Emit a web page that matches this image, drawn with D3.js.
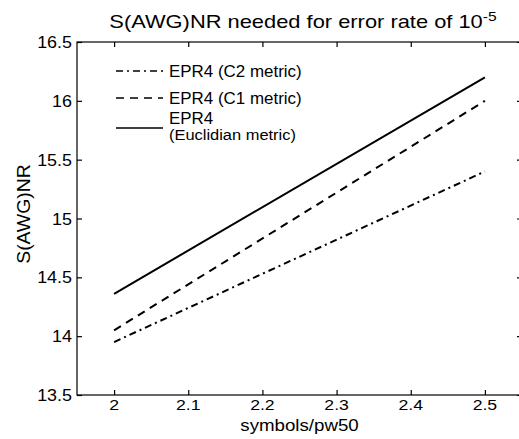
<!DOCTYPE html>
<html>
<head>
<meta charset="utf-8">
<script src="https://cdn.jsdelivr.net/npm/d3@7"></script>
<style>
  body { margin: 0; background: #fff; }
  svg { display: block; font-family: "Liberation Sans", Arial, sans-serif; }
</style>
</head>
<body>
<div id="chart"></div>
<script>
const xValues = [2.0, 2.5]
const c2Metric = [13.95, 15.4]
const c1Metric = [14.05, 16.0]
const euclidean = [14.36, 16.2]
const xTicks = [2, 2.1, 2.2, 2.3, 2.4, 2.5]
const yTicks = [13.5, 14, 14.5, 15, 15.5, 16, 16.5]

const series = [
  { name: "EPR4 (C2 metric)", values: c2Metric, dash: "7,4,2,4" },
  { name: "EPR4 (C1 metric)", values: c1Metric, dash: "8,6" },
  { name: "EPR4", sub: "(Euclidian metric)", values: euclidean, dash: null }
]

const width = 519, height = 439
const margin = { top: 42, right: -3, bottom: 44, left: 77 }
const innerW = width - margin.left - margin.right
const innerH = height - margin.top - margin.bottom

const x = d3.scaleLinear().domain([1.95, 2.55]).range([0, innerW])
const y = d3.scaleLinear().domain([13.5, 16.5]).range([innerH, 0])

const svg = d3.select("#chart").append("svg")
  .attr("width", width).attr("height", height)

// text that is slightly wider than the font, like the scanned original
function label(parent, tx, ty, str, size, sx, anchor) {
  return parent.append("text")
    .attr("transform", `translate(${tx},${ty}) scale(${sx},1)`)
    .attr("text-anchor", anchor || "start")
    .attr("font-size", size).attr("fill", "#000")
    .text(str)
}

const g = svg.append("g").attr("transform", `translate(${margin.left},${margin.top})`)

// frame: left/bottom/top (right edge falls just outside the picture)
g.append("rect").attr("width", innerW).attr("height", innerH)
  .attr("fill", "none").attr("stroke", "#000").attr("stroke-width", 1.2)

// inward ticks on all four sides
const tickStyle = a => a.call(s => s.select(".domain").remove())
  .call(s => s.selectAll(".tick line").attr("stroke", "#000").attr("stroke-width", 1.2))
g.append("g").attr("transform", `translate(0,${innerH})`)
  .call(d3.axisBottom(x).tickValues(xTicks).tickFormat("").tickSizeInner(-5).tickSizeOuter(0)).call(tickStyle)
g.append("g")
  .call(d3.axisTop(x).tickValues(xTicks).tickFormat("").tickSizeInner(-5).tickSizeOuter(0)).call(tickStyle)
g.append("g")
  .call(d3.axisLeft(y).tickValues(yTicks).tickFormat("").tickSizeInner(-5).tickSizeOuter(0)).call(tickStyle)
g.append("g").attr("transform", `translate(${innerW},0)`)
  .call(d3.axisRight(y).tickValues(yTicks).tickFormat("").tickSizeInner(-5).tickSizeOuter(0)).call(tickStyle)

// tick labels
xTicks.forEach(t => label(g, x(t), innerH + 15, String(t), 15.5, 1.14, "middle"))
yTicks.forEach(t => label(g, -5, y(t) + 6, String(t), 16, 1.12, "end"))

// lines
const line = d3.line().x((d, i) => x(xValues[i])).y(d => y(d))
series.forEach(s => {
  g.append("path").datum(s.values)
    .attr("d", line).attr("fill", "none").attr("stroke", "#000")
    .attr("stroke-width", 2).attr("stroke-dasharray", s.dash)
})

// legend
const legendRows = [29, 56, 86]
series.forEach((s, i) => {
  const ly = legendRows[i]
  g.append("line").attr("x1", 39).attr("x2", 86).attr("y1", ly).attr("y2", ly)
    .attr("stroke", "#000").attr("stroke-width", 1.5).attr("stroke-dasharray", s.dash)
  label(g, 92, s.sub ? ly - 4 : ly + 6, s.name, 16, 1.06)
  if (s.sub) label(g, 92, ly + 12, s.sub, 15.5, 1.06)
})

// title
const title = svg.append("text")
  .attr("transform", `translate(303,28) scale(1.25,1)`)
  .attr("text-anchor", "middle").attr("font-size", 17.5)
title.append("tspan").text("S(AWG)NR needed for error rate of 10")
title.append("tspan").attr("dy", -7).attr("font-size", 12.5).text("-5")

// axis labels
label(svg, margin.left + x(2.25), 431, "symbols/pw50", 17, 1.1, "middle")
svg.append("text")
  .attr("transform", `translate(30,${214}) rotate(-90) scale(1.08,1)`)
  .attr("text-anchor", "middle").attr("font-size", 18).text("S(AWG)NR")
</script>
</body>
</html>
